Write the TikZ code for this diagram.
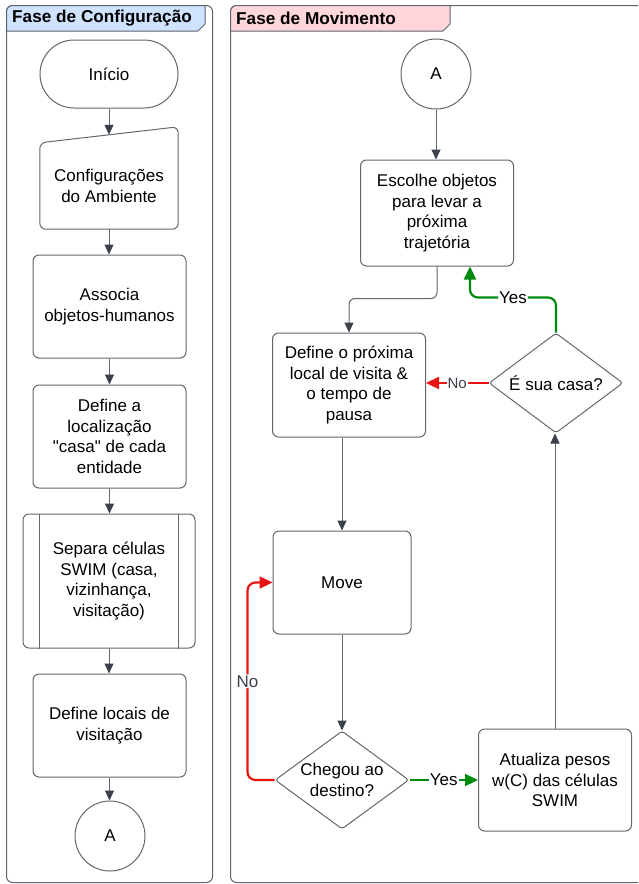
\documentclass[tikz,border=0pt]{standalone}
\usepackage{fontspec}
\setmainfont{Liberation Sans}
\newfontfamily\quotefont{Liberation Sans}
\usetikzlibrary{positioning,arrows.meta,calc,shapes.geometric}
\definecolor{laneline}{HTML}{5E6370}
\definecolor{shapeline}{HTML}{62666E}
\definecolor{flowgray}{HTML}{3A414A}
\definecolor{tabblue}{HTML}{CFE2FF}
\definecolor{tabpink}{HTML}{FFD6D9}
\definecolor{nored}{HTML}{E81313}
\definecolor{yesgreen}{HTML}{008A0E}
\newcommand{\bodyfont}{\fontsize{17}{20.4}\selectfont}
\newcommand{\titlefont}{\fontsize{17.2}{20}\selectfont\bfseries}
\newcommand{\dq}{{\quotefont"}}
\tikzset{
  laneframe/.style={draw=laneline, line width=1pt, rounded corners=6pt},
  tabshape/.style={draw=laneline, line width=1pt},
  lanetitle/.style={anchor=west, inner sep=0pt, font=\titlefont},
  termbox/.style={draw=shapeline, line width=1pt, fill=white, rounded corners=34pt, minimum width=138pt, minimum height=68pt, font=\bodyfont},
  procbox/.style={draw=shapeline, line width=1pt, fill=white, rounded corners=6pt, align=center, minimum width=153pt, minimum height=103pt, font=\bodyfont},
  inputbox/.style={align=center, minimum width=138pt, minimum height=86pt, font=\bodyfont},
  subbox/.style={procbox, minimum width=172pt, minimum height=134pt},
  connbox/.style={draw=shapeline, line width=1pt, circle, minimum size=70pt, inner sep=0pt, font=\bodyfont},
  decision/.style={draw=shapeline, line width=1pt, diamond, aspect=1.34, inner sep=0pt, rounded corners=3pt, align=center, minimum width=134pt, minimum height=100pt, font=\bodyfont},
  flow/.style={-{Triangle[length=10pt,width=9pt,color=flowgray]}, line width=1pt, draw=flowgray!80},
  noflow/.style={-{Triangle[length=13pt,width=12pt]}, line width=2.2pt, draw=nored},
  yesflow/.style={-{Triangle[length=13pt,width=12pt]}, line width=2.2pt, draw=yesgreen},
  yeslabel/.style={fill=white, inner sep=1pt, font=\bodyfont, text=black},
  nolabel/.style={fill=white, inner sep=1pt, font=\bodyfont, text=flowgray}
}

\begin{document}
\begin{tikzpicture}[x=1pt, y=-1pt]
  \useasboundingbox (0,0) rectangle (638,884);
  \clip (0,0) rectangle (638,884);
  % swimlanes
  \draw[laneframe] (6.5,5.5) rectangle (212.5,882.5);
  \draw[laneframe] (230.5,5.5) rectangle (660,882.5);
  \draw[tabshape, fill=tabblue] (6.5,31) -- (6.5,11.5) arc[start angle=180, end angle=270, radius=6] -- (205,5.5) -- (205,24) -- (198,31) -- cycle;
  \draw[tabshape, fill=tabpink] (230.5,31) -- (230.5,11.5) arc[start angle=180, end angle=270, radius=6] -- (450,5.5) -- (450,24) -- (443,31) -- cycle;
  \node[lanetitle] (conftitle) at (12,18) {Fase de Configuração};
  \node[lanetitle] (movtitle) at (236,18) {Fase de Movimento};

  % configuracao
  \node[termbox] (inicio) at (109,74) {Início};
  \node[inputbox] (config) at (109,186) {Configurações\\do Ambiente};
  \draw[draw=shapeline, line width=1pt, rounded corners=6pt] (config.north west) -- ($(config.north east)+(0,-16)$) -- (config.south east) -- (config.south west) -- cycle;
  \coordinate (configtop) at ($(config.north)+(0,-8)$);
  \node[procbox] (assoc) at (109.5,306.5) {Associa\\objetos-humanos};
  \node[procbox] (casa) at (109.5,436.5) {Define a\\localização\\\dq casa\dq{} de cada\\entidade};
  \node[subbox] (separa) at (109,581) {Separa células\\SWIM (casa,\\vizinhança,\\visitação)};
  \draw[draw=shapeline, line width=1pt] ($(separa.north west)+(17,0)$) -- ($(separa.south west)+(17,0)$);
  \draw[draw=shapeline, line width=1pt] ($(separa.north east)+(-17,0)$) -- ($(separa.south east)+(-17,0)$);
  \node[procbox] (locais) at (109.5,725.5) {Define locais de\\visitação};
  \node[connbox] (aleft) at (110,836) {A};

  % movimento
  \node[connbox] (aright) at (436,74) {A};
  \node[procbox, minimum height=106pt] (escolhe) at (437,213) {Escolhe objetos\\para levar a\\próxima\\trajetória};
  \node[procbox, minimum height=104pt] (defloc) at (349,385) {Define o próxima\\local de visita \&\\o tempo de\\pausa};
  \node[decision] (casaq) at (556,383) {É sua casa?};
  \node[procbox, minimum width=138pt] (move) at (342,582.5) {Move};
  \node[decision, minimum height=98pt] (chegou) at (342,780) {Chegou ao\\destino?};
  \node[procbox, minimum height=102pt] (atualiza) at (555,780) {Atualiza pesos\\w(C) das células\\SWIM};
  \coordinate (escolheyes) at ($(escolhe.south)+(33,0)$);

  \draw[flow] (inicio) -- (configtop);
  \draw[flow] (config.south) -- (config.south |- assoc.north);
  \draw[flow] (assoc) -- (casa);
  \draw[flow] (casa.south) -- (casa.south |- separa.north);
  \draw[flow] (separa.south) -- (separa.south |- locais.north);
  \draw[flow] (locais.south) -- (locais.south |- aleft.north);
  \draw[flow] (aright) -- (aright |- escolhe.north);
  \draw[flow, rounded corners=6pt] (escolhe.south) -- ++(0,32) -| (defloc.north);
  \draw[flow] (move.north |- defloc.south) -- (move.north);
  \draw[flow] (move) -- (chegou);
  \draw[yesflow] (chegou.east) -- node[yeslabel] {Yes} (atualiza.west |- chegou.east);
  \draw[noflow, rounded corners=8pt] (chegou.west) -- ++(-27,0) |- node[nolabel, pos=0.25] {No} (move.west);
  \draw[flow] (atualiza.north) -- (atualiza.north |- casaq.south);
  \draw[noflow] (casaq.west) -- node[nolabel, font=\fontsize{15}{17}\selectfont] {No} (casaq.west -| defloc.east);
  \draw[yesflow, rounded corners=8pt] (casaq.north) -- ++(0,-35) -| node[yeslabel, pos=0.25] {Yes} (escolheyes);
\end{tikzpicture}
\end{document}
